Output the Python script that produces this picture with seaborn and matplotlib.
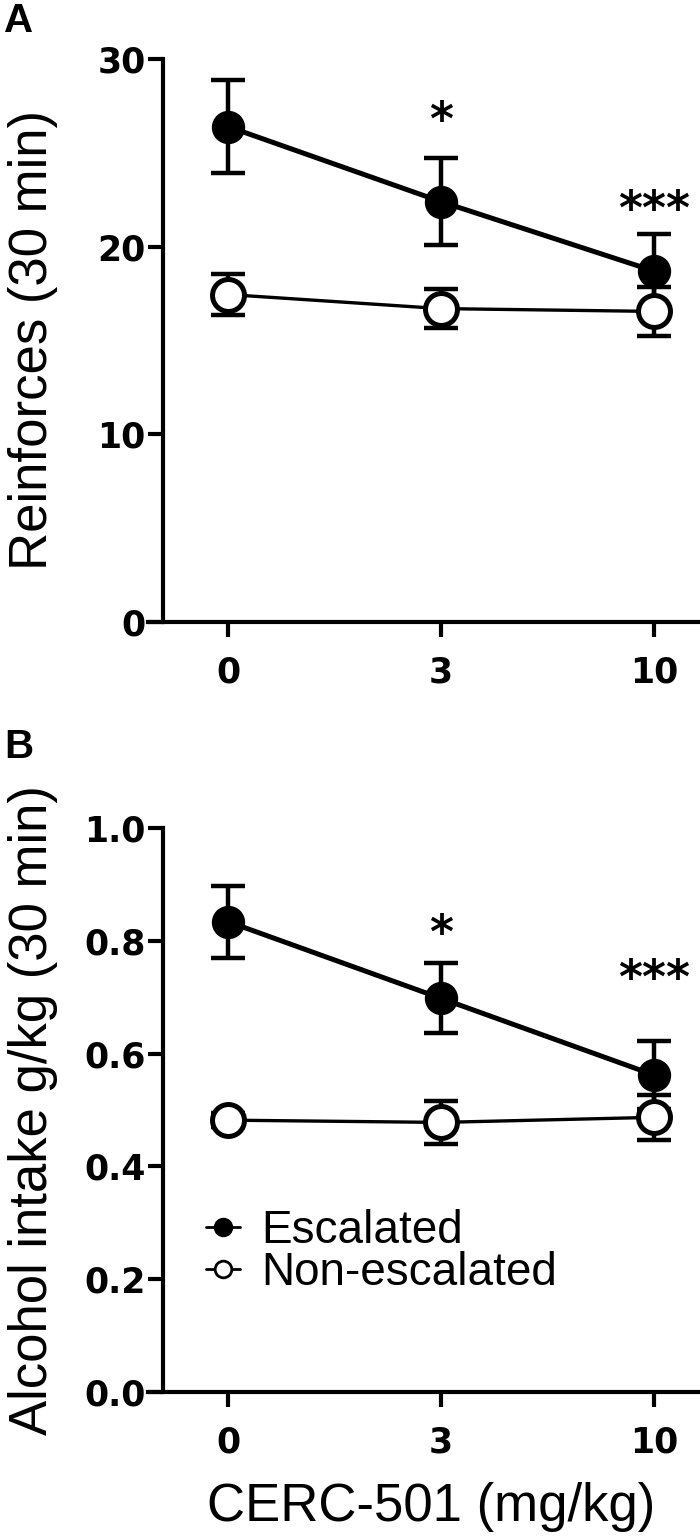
import matplotlib
matplotlib.use('Agg')
import matplotlib.pyplot as plt
import seaborn as sns
import pandas as pd
from matplotlib.lines import Line2D
from matplotlib.ticker import FormatStrFormatter

# values (mean +/- SEM)
doses = ['0', '3', '10']
groups = ['Escalated', 'Non-escalated']

reinf_esc_mean = [26.4, 22.4, 18.7]
reinf_esc_sem = [2.5, 2.3, 1.95]
reinf_non_mean = [17.45, 16.7, 16.55]
reinf_non_sem = [1.1, 1.05, 1.3]

intake_esc_mean = [0.834, 0.698, 0.562]
intake_esc_sem = [0.064, 0.062, 0.06]
intake_non_mean = [0.482, 0.478, 0.487]
intake_non_sem = [0.012, 0.038, 0.04]

sig_marks = ['', '*', '***']

sns.set_theme(style='ticks')
plt.rcParams['font.family'] = ['Liberation Sans', 'DejaVu Sans']
plt.rcParams['text.color'] = 'black'
plt.rcParams['axes.labelcolor'] = 'black'

W, H = 700, 1537
fig = plt.figure(figsize=(W / 100, H / 100), dpi=100)
axA = fig.add_axes([163 / W, 1 - 622 / H, 537 / W, 563 / H])
axB = fig.add_axes([163 / W, 1 - 1392 / H, 537 / W, 564 / H])


def draw_panel(ax, esc_mean, esc_sem, non_mean, non_sem, ylim, yticks, sig_y):
    x = list(range(len(doses)))
    df = pd.DataFrame({
        'x': x + x,
        'y': esc_mean + non_mean,
        'group': [groups[0]] * len(x) + [groups[1]] * len(x),
    })

    ax.errorbar(x, esc_mean, yerr=esc_sem, fmt='none', ecolor='black',
                elinewidth=3.2, capsize=12, capthick=3.2, zorder=2)
    sns.lineplot(data=df[df.group == groups[0]], x='x', y='y', ax=ax,
                 color='black', lw=3.6, marker='o', ms=23, mfc='black',
                 mec='black', mew=1, zorder=3, legend=False)
    ax.errorbar(x, non_mean, yerr=non_sem, fmt='none', ecolor='black',
                elinewidth=3.2, capsize=12, capthick=3.2, zorder=4)
    sns.lineplot(data=df[df.group == groups[1]], x='x', y='y', ax=ax,
                 color='black', lw=2.4, marker='o', ms=23, mfc='white',
                 mec='black', mew=3.6, zorder=5, legend=False)

    for i, s in enumerate(sig_marks):
        if s:
            ax.text(i, sig_y[i], s, ha='center', va='center', fontsize=33,
                    fontweight='bold', family='DejaVu Sans')

    ax.set_xlim(-0.305, 2.216)
    ax.set_ylim(*ylim)
    ax.set_xticks(x)
    ax.set_xticklabels(doses)
    ax.set_yticks(yticks)
    sns.despine(ax=ax)
    for side in ['left', 'bottom']:
        ax.spines[side].set_linewidth(3.0)
        ax.spines[side].set_color('black')
    ax.spines['bottom'].set_bounds(-0.376, 2.216)
    ax.spines['left'].set_bounds(*ylim)
    ax.tick_params(axis='both', direction='out', length=11, width=3.0,
                   color='black', labelsize=25, labelcolor='black')
    ax.tick_params(axis='x', pad=13)
    ax.tick_params(axis='y', pad=1.5)
    for lab in ax.get_xticklabels() + ax.get_yticklabels():
        lab.set_fontweight('bold')
        lab.set_family('DejaVu Sans')
    ax.set_xlabel('')
    ax.set_facecolor('white')


draw_panel(axA, reinf_esc_mean, reinf_esc_sem, reinf_non_mean, reinf_non_sem,
           (0, 30), [0, 10, 20, 30], [None, 26.6, 21.9])
axA.set_ylabel('Reinforces (30 min)', fontsize=38)
axA.yaxis.set_label_coords(-0.242, 0.5)
axA.yaxis.label.set_verticalalignment('center')

draw_panel(axB, intake_esc_mean, intake_esc_sem, intake_non_mean, intake_non_sem,
           (0, 1.0), [0, 0.2, 0.4, 0.6, 0.8, 1.0], [None, 0.81, 0.73])
axB.yaxis.set_major_formatter(FormatStrFormatter('%.1f'))
for lab in axB.get_yticklabels():
    lab.set_fontweight('bold')
    lab.set_family('DejaVu Sans')
axB.set_ylabel('Alcohol intake g/kg (30 min)', fontsize=38)
axB.yaxis.set_label_coords(-0.242, 0.5)
axB.yaxis.label.set_verticalalignment('center')
axB.set_xlabel('CERC-501 (mg/kg)', fontsize=38)
axB.xaxis.set_label_coords(0.5, -0.204)
axB.xaxis.label.set_verticalalignment('center')

handles = [
    Line2D([], [], color='black', lw=2, marker='o', ms=12, mfc='black', mec='black', mew=2),
    Line2D([], [], color='black', lw=2, marker='o', ms=12, mfc='white', mec='black', mew=2),
]
axB.legend(handles, groups, loc='center left', bbox_to_anchor=(0.08, 0.248),
           frameon=False, fontsize=33, handlelength=0.75, handletextpad=0.45,
           labelspacing=-0.05, borderpad=0, borderaxespad=0)

fig.text(4 / W, 1 - 2 / H, 'A', ha='left', va='top', fontsize=29, fontweight='bold')
fig.text(4 / W, 1 - 728 / H, 'B', ha='left', va='top', fontsize=29, fontweight='bold')

fig.savefig('out.png', dpi=100, facecolor='white')
